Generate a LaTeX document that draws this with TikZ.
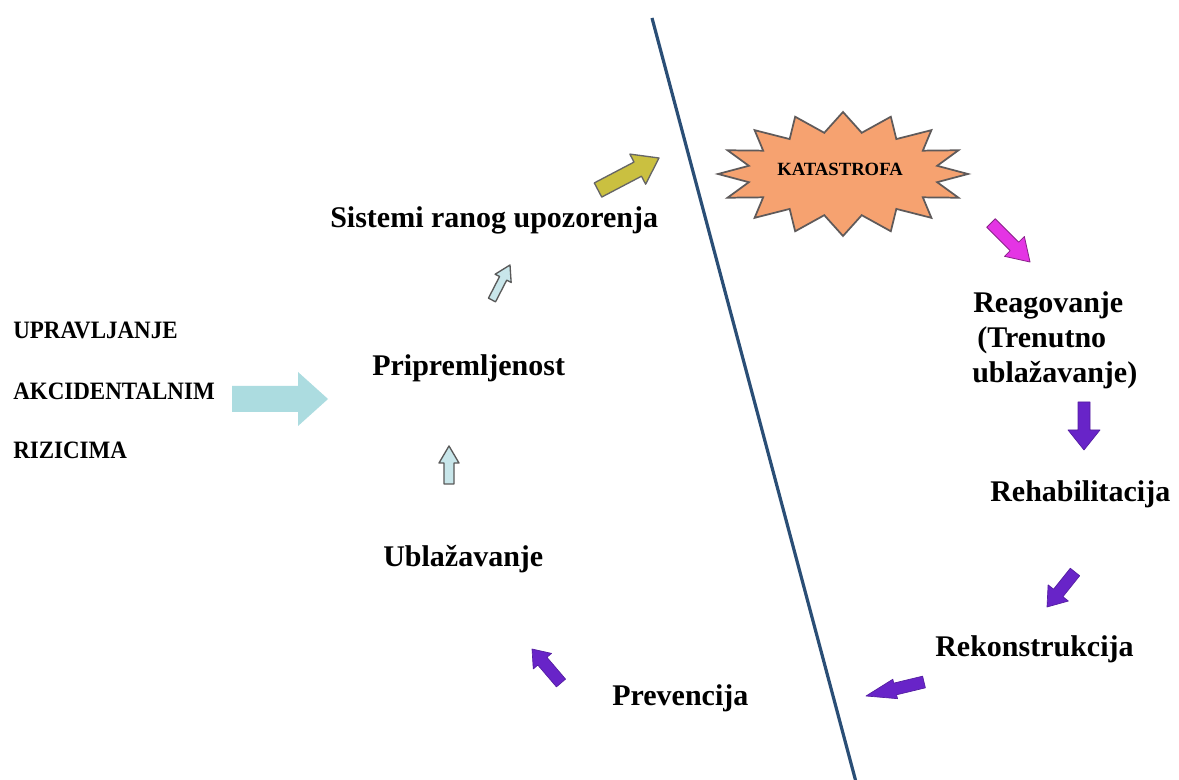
\documentclass[tikz,border=0pt]{standalone}
\usepackage{fontspec}
\setmainfont{Liberation Serif}
\usetikzlibrary{calc}
\definecolor{divline}{RGB}{42,78,118}
\definecolor{starfill}{RGB}{246,162,112}
\definecolor{staredge}{RGB}{95,90,90}
\definecolor{bigblue}{RGB}{172,220,224}
\definecolor{smallblue}{RGB}{200,230,234}
\definecolor{olive}{RGB}{202,192,64}
\definecolor{magentaarr}{RGB}{228,52,228}
\definecolor{purplearr}{RGB}{104,36,200}
% #1 style, #2 start, #3 end, #4 shaft half width, #5 head half width, #6 head length
\newcommand\blockarrow[6]{%
  \path #2 coordinate (ba-s) #3 coordinate (ba-e);
  \path ($(ba-e)!#6!(ba-s)$) coordinate (ba-h);
  \filldraw[#1] ($(ba-s)!#4!90:(ba-e)$) -- ($(ba-h)!#4!-90:(ba-s)$) --
    ($(ba-h)!#5!-90:(ba-s)$) -- (ba-e) -- ($(ba-h)!#5!90:(ba-s)$) --
    ($(ba-h)!#4!90:(ba-s)$) -- ($(ba-s)!#4!-90:(ba-e)$) -- cycle;
}
\newcommand\narrowtext[1]{\scalebox{0.92}[1]{#1}}
\begin{document}
\begin{tikzpicture}[x=0.75pt,y=-0.75pt,
  lbl/.style={font=\bfseries\fontsize{22.5}{27}\selectfont, inner sep=0, anchor=base west},
  side/.style={font=\bfseries\fontsize{18.75}{22}\selectfont, inner sep=0, anchor=base west},
  purple arrow/.style={fill=purplearr, draw=purplearr!80!black, line width=0.5pt, line join=round},
  outline arrow/.style={fill=smallblue, draw=black!65, line width=1pt, line join=round},
]
\useasboundingbox (0,0) rectangle (1179,780);
\fill[white] (0,0) rectangle (1179,780);

% dividing line
\coordinate (ltop) at (652,18);
\coordinate (lbot) at (856,782);
\draw[divline, line width=2.4pt] (ltop) -- (lbot);

% star
\filldraw[fill=starfill, draw=staredge, line width=1.3pt, line join=miter]
  (968,174) \foreach \i in {1,...,31}{
    -- ({843+ifthenelse(mod(\i,2)==0,125,96)*cos(\i*11.25)},{174+ifthenelse(mod(\i,2)==0,62,42)*sin(\i*11.25)}) } -- cycle;
\node[font=\bfseries\fontsize{14}{16}\selectfont, inner sep=0, anchor=base] (kat) at (840,176) {KATASTROFA};

% left labels
\node[side] (l1) at (13,339) {\narrowtext{UPRAVLJANJE}};
\node[side] (l2) at (13,400) {\narrowtext{AKCIDENTALNIM}};
\node[side] (l3) at (13,459) {\narrowtext{RIZICIMA}};

% main labels
\node[lbl] (sist) at (330,228) {Sistemi ranog upozorenja};
\node[lbl] (prip) at (372,376) {Pripremljenost};
\node[lbl] (ubl) at (383,566) {Ublažavanje};
\node[lbl] (prev) at (612,705) {Prevencija};
\node[lbl] (reag1) at (973,313) {Reagovanje};
\node[lbl] (reag2) at (977,348) {(Trenutno};
\node[lbl] (reag3) at (972,383) {ublažavanje)};
\node[lbl] (reh) at (990,502) {Rehabilitacija};
\node[lbl] (rek) at (935,657) {Rekonstrukcija};

% arrows
\blockarrow{fill=bigblue, draw=none}{(232,399)}{(328,399)}{9.75pt}{20.25pt}{22.5pt}
\blockarrow{fill=olive, draw=black!60, line width=1pt, line join=round}{(598,190)}{(659,158)}{6pt}{12.75pt}{18pt}
\blockarrow{fill=magentaarr, draw=magentaarr!60!black, line width=0.6pt, line join=round}{(991,223)}{(1030,262)}{4.5pt}{10.5pt}{16.5pt}
\blockarrow{outline arrow}{(492,300)}{(510,265)}{3pt}{6.75pt}{11.25pt}
\blockarrow{outline arrow}{(449,484)}{(449,446)}{3.75pt}{7.5pt}{12.75pt}
\blockarrow{purple arrow}{(1084,402)}{(1084,450)}{4.5pt}{12pt}{15pt}
\blockarrow{purple arrow}{(1075,572)}{(1047,607)}{4.5pt}{9.75pt}{13.5pt}
\blockarrow{purple arrow}{(924,682)}{(866,696)}{4.5pt}{7.5pt}{22.5pt}
\blockarrow{purple arrow}{(561,683)}{(532,649)}{4.5pt}{9pt}{12pt}
\end{tikzpicture}
\end{document}
